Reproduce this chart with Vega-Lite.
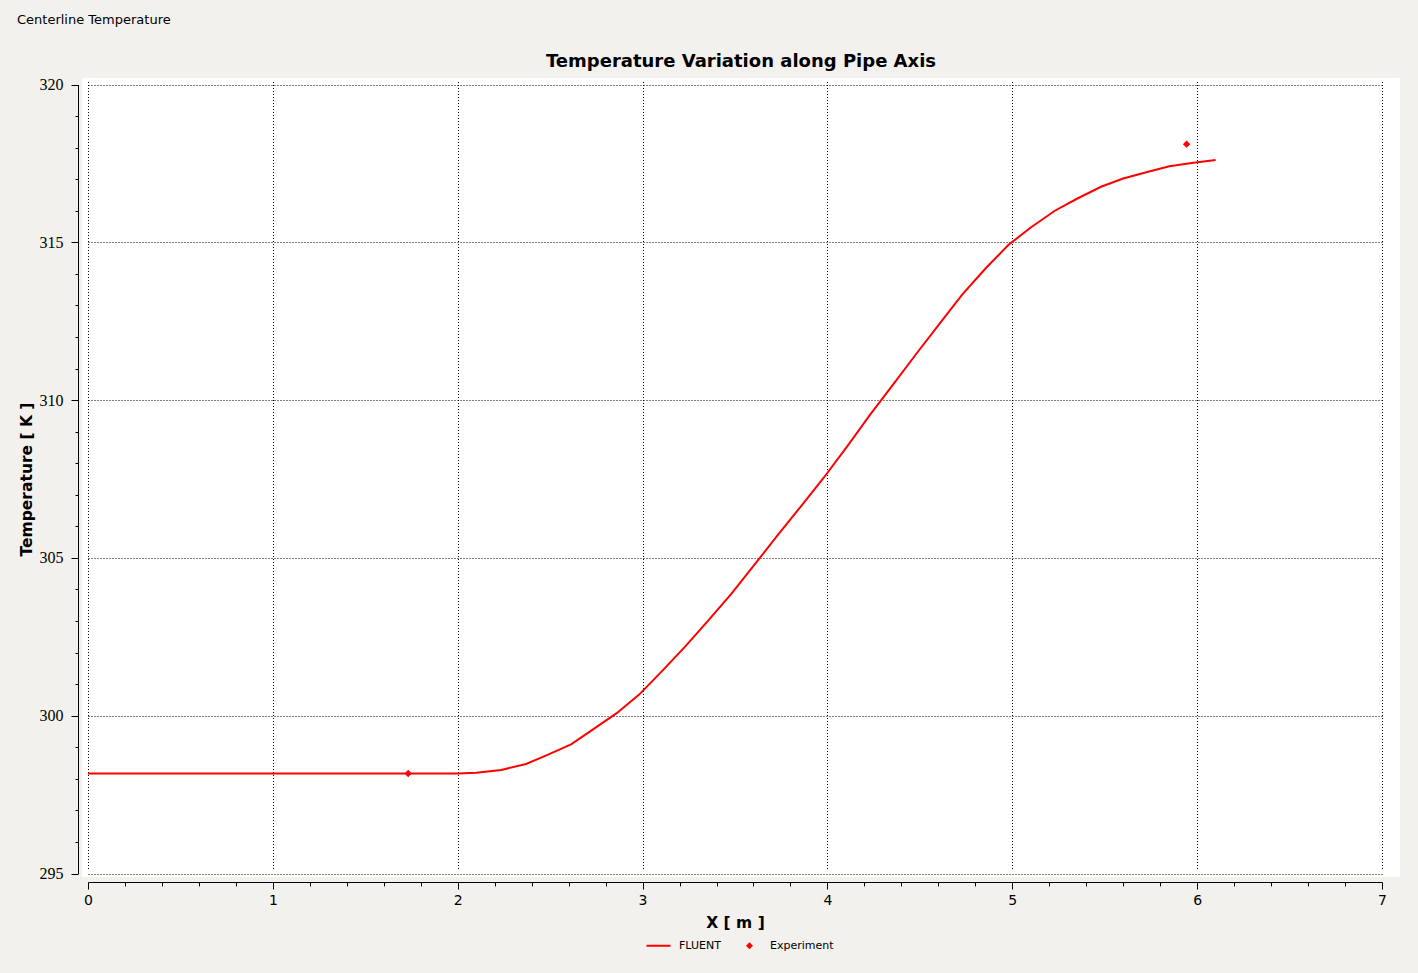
{
  "$schema": "https://vega.github.io/schema/vega-lite/v6.json",
  "background": "#f2f1ed",
  "padding": {"left": 17, "top": 13, "right": 28, "bottom": 44},
  "title": {"text": "Centerline Temperature", "anchor": "start", "frame": "bounds", "font": "DejaVu Sans", "fontSize": 13, "fontWeight": "normal", "color": "#000000", "offset": 26, "dx": -2},
  "datasets": {
    "fluent": [
      {"x": 0, "t": 298.17, "series": "FLUENT"},
      {"x": 0.5, "t": 298.17, "series": "FLUENT"},
      {"x": 1.0, "t": 298.17, "series": "FLUENT"},
      {"x": 1.5, "t": 298.17, "series": "FLUENT"},
      {"x": 2.0, "t": 298.17, "series": "FLUENT"},
      {"x": 2.1, "t": 298.19, "series": "FLUENT"},
      {"x": 2.235, "t": 298.28, "series": "FLUENT"},
      {"x": 2.37, "t": 298.47, "series": "FLUENT"},
      {"x": 2.486, "t": 298.76, "series": "FLUENT"},
      {"x": 2.613, "t": 299.09, "series": "FLUENT"},
      {"x": 2.74, "t": 299.6, "series": "FLUENT"},
      {"x": 2.86, "t": 300.08, "series": "FLUENT"},
      {"x": 2.98, "t": 300.66, "series": "FLUENT"},
      {"x": 3.1, "t": 301.38, "series": "FLUENT"},
      {"x": 3.23, "t": 302.19, "series": "FLUENT"},
      {"x": 3.35, "t": 302.98, "series": "FLUENT"},
      {"x": 3.48, "t": 303.86, "series": "FLUENT"},
      {"x": 3.6, "t": 304.75, "series": "FLUENT"},
      {"x": 3.73, "t": 305.71, "series": "FLUENT"},
      {"x": 3.86, "t": 306.66, "series": "FLUENT"},
      {"x": 3.98, "t": 307.54, "series": "FLUENT"},
      {"x": 4.11, "t": 308.56, "series": "FLUENT"},
      {"x": 4.23, "t": 309.53, "series": "FLUENT"},
      {"x": 4.36, "t": 310.53, "series": "FLUENT"},
      {"x": 4.48, "t": 311.46, "series": "FLUENT"},
      {"x": 4.61, "t": 312.45, "series": "FLUENT"},
      {"x": 4.73, "t": 313.35, "series": "FLUENT"},
      {"x": 4.86, "t": 314.2, "series": "FLUENT"},
      {"x": 4.98, "t": 314.92, "series": "FLUENT"},
      {"x": 5.1, "t": 315.47, "series": "FLUENT"},
      {"x": 5.23, "t": 316.0, "series": "FLUENT"},
      {"x": 5.35, "t": 316.38, "series": "FLUENT"},
      {"x": 5.48, "t": 316.76, "series": "FLUENT"},
      {"x": 5.6, "t": 317.02, "series": "FLUENT"},
      {"x": 5.73, "t": 317.23, "series": "FLUENT"},
      {"x": 5.85, "t": 317.41, "series": "FLUENT"},
      {"x": 5.98, "t": 317.52, "series": "FLUENT"},
      {"x": 6.1, "t": 317.61, "series": "FLUENT"}
    ],
    "experiment": [
      {"x": 1.732, "t": 298.17, "series": "Experiment"},
      {"x": 5.943, "t": 318.11, "series": "Experiment"}
    ]
  },
  "vconcat": [
    {
      "width": 1318,
      "height": 799,
      "title": {"text": "Temperature Variation along Pipe Axis", "font": "DejaVu Sans", "fontSize": 18, "fontWeight": "bold", "color": "#000000", "anchor": "middle", "offset": 6},
      "layer": [
        {
          "data": {"name": "fluent"},
          "mark": {"type": "line", "strokeWidth": 2},
          "encoding": {
            "x": {
              "field": "x", "type": "quantitative",
              "scale": {"domain": [0, 7], "range": [6, 1300], "nice": false, "zero": false},
              "axis": {
                "title": "X [ m ]",
                "values": [0,0.2,0.4,0.6,0.8,1,1.2,1.4,1.6,1.8,2,2.2,2.4,2.6,2.8,3,3.2,3.4,3.6,3.8,4,4.2,4.4,4.6,4.8,5,5.2,5.4,5.6,5.8,6,6.2,6.4,6.6,6.8,7],
                "tickCount": 200,
                "offset": 5,
                "grid": true,
                "gridOpacity": {"condition": {"test": "datum.value % 1 === 0", "value": 1}, "value": 0},
                "tickSize": {"condition": {"test": "datum.value % 1 === 0", "value": 7}, "value": 4},
                "labelExpr": "datum.value % 1 === 0 ? format(datum.value, 'd') : ''",
                "labelFont": "DejaVu Sans", "labelFontSize": 14, "labelPadding": 4,
                "labelFlush": false, "labelOverlap": false,
                "titleFont": "DejaVu Sans", "titleFontSize": 15.5, "titleFontWeight": "bold", "titlePadding": 8
              }
            },
            "y": {
              "field": "t", "type": "quantitative",
              "scale": {"domain": [295, 320], "range": [795.5, 6.5], "nice": false, "zero": false},
              "axis": {
                "title": "Temperature [ K ]",
                "values": [295,296,297,298,299,300,301,302,303,304,305,306,307,308,309,310,311,312,313,314,315,316,317,318,319,320],
                "tickCount": 200,
                "offset": 4,
                "grid": true,
                "gridOpacity": {"condition": {"test": "datum.value % 5 === 0", "value": 1}, "value": 0},
                "tickSize": {"condition": {"test": "datum.value % 5 === 0", "value": 7}, "value": 3},
                "labelExpr": "datum.value % 5 === 0 ? format(datum.value, 'd') : ''",
                "labelFont": "Liberation Serif", "labelFontSize": 16, "labelPadding": 8,
                "labelFlush": false, "labelOverlap": false,
                "titleFont": "DejaVu Sans", "titleFontSize": 15.5, "titleFontWeight": "bold", "titlePadding": 5
              }
            },
            "color": {
              "field": "series", "type": "nominal",
              "scale": {"domain": ["FLUENT", "Experiment"], "range": ["#ff0000", "#ff0000"]},
              "legend": {
                "title": null, "orient": "none", "legendX": 571, "legendY": 862, "direction": "horizontal", "padding": 0,
                "labelFont": "DejaVu Sans", "labelFontSize": 11, "labelColor": "#000000",
                "symbolSize": 576, "columnPadding": 23, "labelOffset": 15,
                "encode": {"symbols": {"update": {
                  "shape": {"signal": "datum.value === 'FLUENT' ? 'stroke' : 'diamond'"},
                  "size": {"signal": "datum.value === 'FLUENT' ? 576 : 49"},
                  "fill": {"value": "#ff0000"},
                  "stroke": {"value": "#ff0000"},
                  "strokeWidth": {"signal": "datum.value === 'FLUENT' ? 2 : 0"},
                  "opacity": {"value": 1}
                }}}
              }
            }
          }
        },
        {
          "data": {"name": "experiment"},
          "mark": {"type": "point", "shape": "diamond", "filled": true, "size": 55, "opacity": 1},
          "encoding": {
            "x": {"field": "x", "type": "quantitative"},
            "y": {"field": "t", "type": "quantitative"},
            "color": {"field": "series", "type": "nominal"}
          }
        }
      ]
    }
  ],
  "config": {
    "view": {"fill": "#ffffff", "stroke": null},
    "axis": {"gridColor": "#000000", "gridDash": [1, 2], "gridWidth": 1, "domainColor": "#000000", "tickColor": "#000000", "labelColor": "#000000", "titleColor": "#000000", "domainWidth": 1, "tickWidth": 1}
  }
}
